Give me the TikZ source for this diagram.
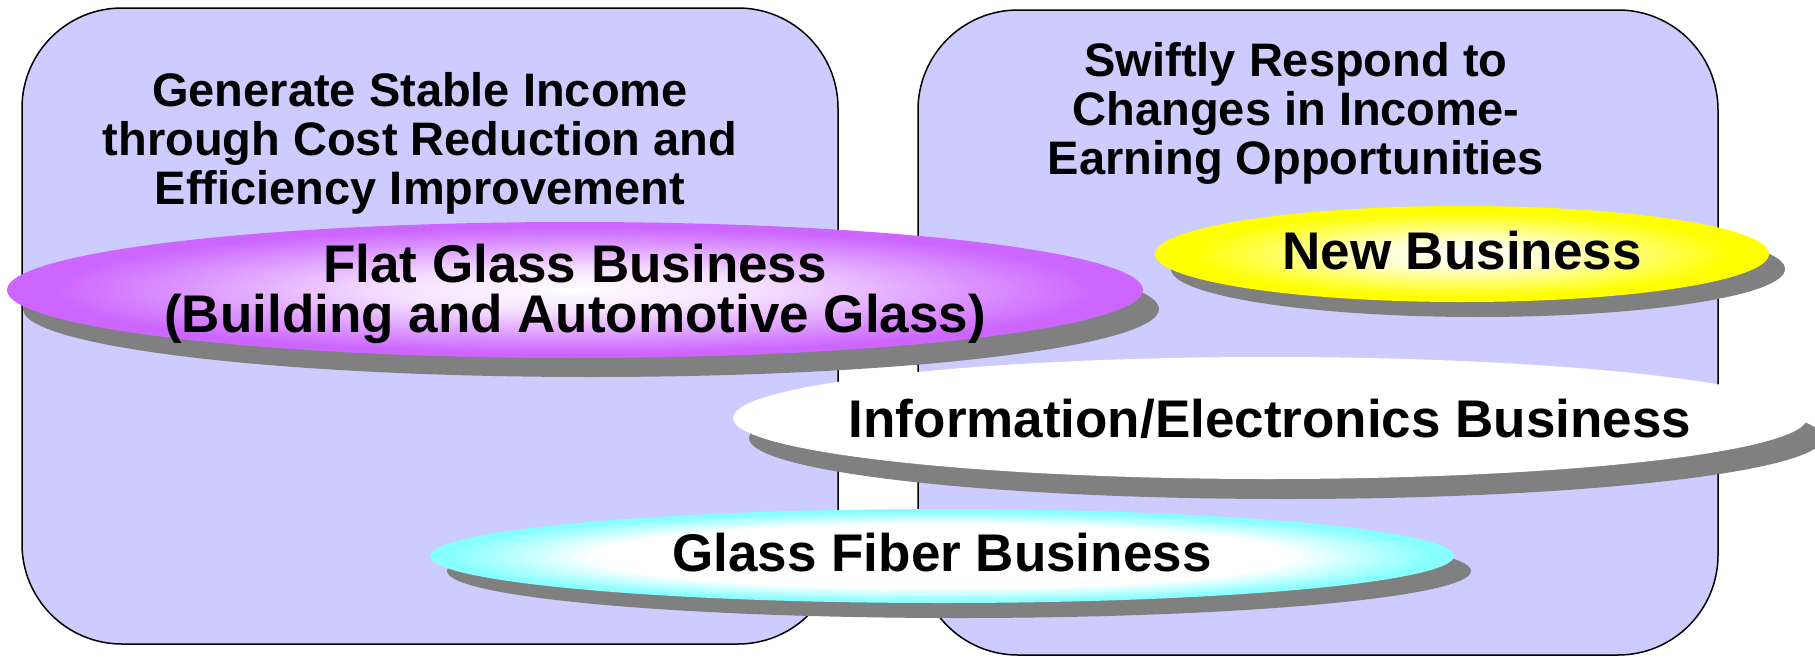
\documentclass[tikz,border=0pt]{standalone}
\usepackage{fontspec}
\setmainfont{Liberation Sans}
\definecolor{boxfill}{HTML}{CCCCFF}
\definecolor{shadowgray}{HTML}{808080}
\definecolor{flatpurple}{HTML}{CC66FF}
\definecolor{newyellow}{HTML}{FFFF00}
\definecolor{fibercyan}{HTML}{88FFFF}
\pgfdeclareradialshading{flatshade}{\pgfpoint{0bp}{0bp}}{color(0bp)=(white); color(8bp)=(white!80!flatpurple); color(23bp)=(flatpurple); color(50bp)=(flatpurple)}
\pgfdeclareradialshading{yellowshade}{\pgfpoint{0bp}{0bp}}{color(0bp)=(white); color(8bp)=(white!80!newyellow); color(22bp)=(newyellow); color(50bp)=(newyellow)}
\pgfdeclareradialshading{fibershade}{\pgfpoint{0bp}{0bp}}{color(0bp)=(white); color(17bp)=(white); color(24bp)=(fibercyan); color(50bp)=(fibercyan)}
\tikzset{
  bigbox/.style={draw=black, line width=1.5pt, fill=boxfill, rounded corners=100pt},
  shadowfill/.style={fill=shadowgray},
  titletext/.style={align=center, font=\fontsize{47}{49}\selectfont\bfseries, inner sep=0pt},
  biztext/.style={align=center, font=\fontsize{53}{50}\selectfont\bfseries, inner sep=0pt},
}
\begin{document}
\begin{tikzpicture}[x=1pt, y=-1pt]
\useasboundingbox (0,0) rectangle (1815,656);
% boxes
\path[bigbox] (22,8) rectangle (838,644);
\path[bigbox] (918,10) rectangle (1718,655);
% titles
\node[titletext] (lefttitle) at (420,143) {Generate Stable Income\\through Cost Reduction and\\Efficiency Improvement};
\node[titletext] (righttitle) at (1296,113) {Swiftly Respond to\\Changes in Income-\\Earning Opportunities};
% Flat glass
\path[shadowfill] (591,309) ellipse [x radius=568, y radius=68];
\shade[shading=flatshade] (575,290) ellipse [x radius=568, y radius=68];
\node[biztext] (flat) at (575,294) {Flat Glass Business\\(Building and Automotive Glass)};
% New business
\path[shadowfill] (1478,269) ellipse [x radius=307, y radius=48];
\shade[shading=yellowshade] (1462,254) ellipse [x radius=307, y radius=48];
\node[biztext] (newbiz) at (1462,251) {New Business};
% Info / electronics
\path[shadowfill] (1286,438) ellipse [x radius=537, y radius=61];
\fill[white] (1270,418) ellipse [x radius=537, y radius=61];
\node[biztext] (info) at (1270,419) {Information/Electronics Business};
% Glass fiber
\path[shadowfill] (959,571) ellipse [x radius=512, y radius=47];
\shade[shading=fibershade] (942,556) ellipse [x radius=512, y radius=47];
\node[biztext] (fiber) at (942,553) {Glass Fiber Business};
\end{tikzpicture}
\end{document}
